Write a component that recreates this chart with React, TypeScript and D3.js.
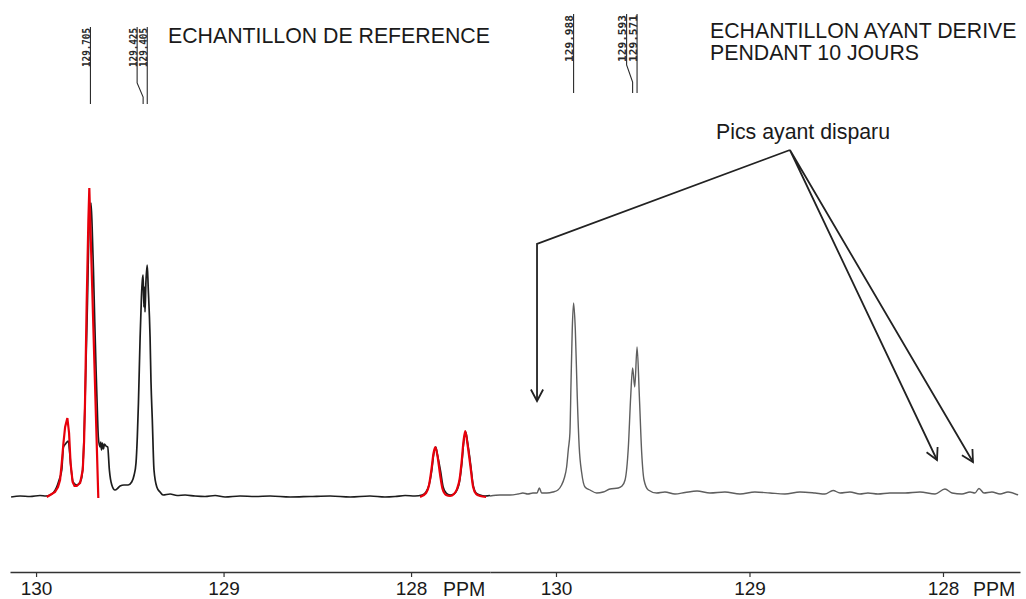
import {
  axisBottom,
  curveLinear,
  curveMonotoneX,
  line,
  scaleLinear,
  select,
} from "d3";
import { useEffect, useRef } from "react";

// ppm / height above baseline
const referenceTrace: [number, number][] = [
  [130.133, 0], [130.085, 1], [130.032, 0.5], [129.979, 1.5], [129.947, 1],
  [129.925, 2], [129.909, 4], [129.89, 10], [129.877, 17], [129.863, 27],
  [129.854, 50], [129.843, 53], [129.828, 56], [129.821, 45], [129.813, 28],
  [129.803, 15], [129.783, 12], [129.765, 15], [129.756, 20], [129.748, 40],
  [129.739, 94], [129.726, 194], [129.716, 277], [129.71, 285], [129.707, 294],
  [129.701, 270], [129.694, 227], [129.687, 175], [129.68, 127], [129.673, 85],
  [129.668, 60], [129.659, 50], [129.655, 55], [129.651, 47], [129.646, 54],
  [129.641, 48], [129.635, 53], [129.627, 51], [129.618, 50], [129.609, 27],
  [129.596, 12], [129.579, 7], [129.563, 9], [129.552, 11], [129.531, 12],
  [129.509, 12], [129.49, 15], [129.477, 22], [129.467, 34], [129.46, 60],
  [129.454, 94], [129.445, 160], [129.438, 200], [129.433, 217], [129.429, 222],
  [129.425, 190], [129.422, 210], [129.419, 185], [129.414, 215], [129.407, 232],
  [129.402, 210], [129.392, 160], [129.387, 115], [129.38, 77], [129.371, 27],
  [129.356, 10], [129.339, 5], [129.323, 2], [129.285, 3], [129.248, 1.5],
  [129.205, 2], [129.152, 1], [129.099, 0.5], [129.045, 1.5], [128.992, 0],
  [128.912, 1], [128.832, 0.5], [128.752, 1], [128.645, 0], [128.539, 0.5],
  [128.432, 1], [128.325, 0], [128.219, 1], [128.139, 0], [128.085, 0.5],
  [128.032, 1.5], [127.979, 1], [127.941, 2], [127.92, 5], [127.904, 12],
  [127.89, 26], [127.88, 42], [127.868, 50], [127.859, 42], [127.842, 25],
  [127.829, 10], [127.813, 4], [127.792, 2], [127.771, 3], [127.755, 7],
  [127.741, 16], [127.73, 32], [127.719, 55], [127.708, 65], [127.699, 55],
  [127.682, 32], [127.669, 12], [127.653, 4], [127.632, 2], [127.605, 1],
  [127.579, 1.5],
];

const fitLow: [number, number][] = [
  [129.943, 0], [129.925, 2], [129.899, 5], [129.883, 10], [129.872, 17],
  [129.863, 34], [129.854, 54], [129.845, 70], [129.833, 79], [129.824, 64],
  [129.816, 34], [129.805, 15], [129.795, 11], [129.783, 11], [129.765, 14],
  [129.751, 27], [129.744, 55], [129.739, 94], [129.73, 194], [129.721, 277],
  [129.716, 309], [129.668, -1],
];

const fitHigh: [number, number][] = [
  [127.952, 0], [127.92, 4], [127.904, 12], [127.891, 28], [127.88, 44],
  [127.871, 50], [127.86, 42], [127.845, 22], [127.832, 8], [127.813, 2],
  [127.792, 1], [127.771, 3], [127.755, 8], [127.741, 18], [127.731, 34],
  [127.72, 56], [127.711, 66], [127.7, 54], [127.683, 30], [127.669, 10],
  [127.653, 3], [127.632, 1], [127.6, 0],
];

const driftTrace: [number, number][] = [
  [130.341, -2], [130.289, -1], [130.238, -1], [130.196, 0], [130.171, 1],
  [130.145, 0], [130.119, 1], [130.098, 1], [130.086, 6], [130.074, 1],
  [130.047, 1], [130.016, 2], [129.99, 4], [129.971, 9], [129.957, 16],
  [129.945, 27], [129.936, 45], [129.928, 61], [129.922, 114], [129.916, 164],
  [129.909, 191], [129.9, 164], [129.89, 97], [129.88, 47], [129.867, 21],
  [129.85, 7], [129.824, 4], [129.79, 1], [129.756, 2], [129.721, 5],
  [129.678, 6], [129.659, 8], [129.643, 14], [129.626, 47], [129.614, 97],
  [129.604, 126], [129.593, 107], [129.581, 147], [129.569, 97], [129.557, 41],
  [129.545, 14], [129.523, 4], [129.48, 1], [129.437, 2], [129.385, 0],
  [129.333, 1.5], [129.271, 3], [129.204, 1], [129.127, 2], [129.049, 0],
  [128.972, 2], [128.894, 1], [128.817, 0], [128.739, 2], [128.661, 1],
  [128.61, 0], [128.568, 3.5], [128.532, 1], [128.481, 2], [128.429, 0],
  [128.388, 1], [128.336, 0], [128.274, 1], [128.196, 1], [128.119, 2],
  [128.041, 0], [127.99, 5], [127.953, 1], [127.902, 0], [127.86, 2],
  [127.835, 1], [127.814, 5.5], [127.788, 1], [127.747, 2], [127.705, 0],
  [127.664, 2], [127.612, -1],
];

const tickValues = [130, 129, 128];
const tickLabels = ["130", "129", "128"];

const refPeakLabels = ["129.705", "129.425", "129.405"];
const refPeakPpm = [129.71, 129.429, 129.407];
const driftPeakLabels = ["129.988", "129.593", "129.571"];
const driftPeakPpm = [129.909, 129.604, 129.581];

// arrows "Pics ayant disparu" in the right panel's ppm / height units
const arrowApex: [number, number] = [128.791, 344];
const arrowBend: [number, number] = [130.098, 250];
const missingPeaks: [number, number][] = [
  [130.098, 93],
  [128.031, 34],
  [127.845, 32],
];

const SANS = "'Liberation Sans', Arial, sans-serif";
const MONO = "'DejaVu Sans Mono', monospace";

function App() {
  const svgRef = useRef<SVGSVGElement>(null);

  useEffect(() => {
    const svg = select(svgRef.current);
    svg.selectAll("*").remove();

    const xLeft = scaleLinear().domain([130.139, 127.579]).range([10, 490]);
    const yLeft = scaleLinear().domain([0, 310]).range([497, 187]);
    const xRight = scaleLinear().domain([130.341, 127.602]).range([490, 1020]);
    const yRight = scaleLinear().domain([0, 310]).range([494, 184]);

    const drawAxis = (x: any, ppmOffset: number) => {
      const g = svg
        .append("g")
        .attr("transform", "translate(0,572)")
        .call(
          axisBottom(x)
            .tickValues(tickValues)
            .tickFormat((_: any, i: number) => tickLabels[i])
            .tickSize(5)
            .tickSizeOuter(0)
            .tickPadding(5) as any
        );
      g.select(".domain").attr("stroke", "#333").attr("stroke-width", 1.6);
      g.selectAll(".tick line").attr("stroke", "#333").attr("stroke-width", 1.2);
      g.selectAll(".tick text")
        .attr("font-size", 19)
        .attr("font-family", SANS)
        .attr("fill", "#1a1a1a");
      g.append("text")
        .attr("x", x(128) + ppmOffset)
        .attr("y", 23.5)
        .attr("text-anchor", "start")
        .attr("font-size", 19.5)
        .attr("font-family", SANS)
        .attr("fill", "#1a1a1a")
        .text("PPM");
    };
    drawAxis(xLeft, 32);
    drawAxis(xRight, 30);

    const trace = (x: any, y: any, curve: any) =>
      line<[number, number]>()
        .x((d) => x(d[0]))
        .y((d) => y(d[1]))
        .curve(curve);

    svg
      .append("path")
      .attr("d", trace(xRight, yRight, curveMonotoneX)(driftTrace))
      .attr("fill", "none")
      .attr("stroke", "#5e5e5e")
      .attr("stroke-width", 1.4);

    svg
      .append("path")
      .attr("d", trace(xLeft, yLeft, curveMonotoneX)(referenceTrace))
      .attr("fill", "none")
      .attr("stroke", "#1c1c1c")
      .attr("stroke-width", 1.7);

    svg
      .append("path")
      .attr("d", trace(xLeft, yLeft, curveLinear)(fitLow))
      .attr("fill", "none")
      .attr("stroke", "#e8000b")
      .attr("stroke-width", 2.2);

    svg
      .append("path")
      .attr("d", trace(xLeft, yLeft, curveMonotoneX)(fitHigh))
      .attr("fill", "none")
      .attr("stroke", "#e8000b")
      .attr("stroke-width", 2.2);

    // peak picking labels on top
    const drawPeakLabels = (
      x: any,
      labels: string[],
      ppms: number[],
      top: number,
      bend1: number,
      bend2: number,
      bottom: number,
      textLen: number,
      fontSize: number
    ) => {
      labels.forEach((label, i) => {
        const xb = x(ppms[i]);
        const crowded = i + 1 < ppms.length && x(ppms[i + 1]) - xb < 8;
        const xt = crowded ? xb - 6 : xb;
        svg
          .append("path")
          .attr("d", `M${xt},${top}V${bend1}L${xb},${bend2}V${bottom}`)
          .attr("fill", "none")
          .attr("stroke", "#2a2a2a")
          .attr("stroke-width", 1.1);
        svg
          .append("text")
          .attr("transform", `translate(${xt - 0.5},${top + 1}) rotate(-90)`)
          .attr("text-anchor", "end")
          .attr("font-family", MONO)
          .attr("font-weight", "bold")
          .attr("font-size", fontSize)
          .attr("textLength", textLen)
          .attr("lengthAdjust", "spacingAndGlyphs")
          .attr("fill", "#2a2a2a")
          .text(label);
      });
    };
    drawPeakLabels(xLeft, refPeakLabels, refPeakPpm, 27, 83, 97, 104, 39, 10.5);
    drawPeakLabels(xRight, driftPeakLabels, driftPeakPpm, 14, 65, 82, 93, 47, 10);

    // titles
    const title = (tx: number, ty: number, s: string) =>
      svg
        .append("text")
        .attr("x", tx)
        .attr("y", ty)
        .attr("font-family", SANS)
        .attr("font-size", 21.3)
        .attr("fill", "#1a1a1a")
        .text(s);
    title(168, 43, "ECHANTILLON DE REFERENCE");
    title(710, 38, "ECHANTILLON AYANT DERIVE");
    title(710, 60, "PENDANT 10 JOURS");
    title(716, 139, "Pics ayant disparu");

    // arrows to the vanished peaks
    const pt = (d: [number, number]) => [xRight(d[0]), yRight(d[1])];
    const [ax, ay] = pt(arrowApex);
    const [bx, by] = pt(arrowBend);
    const tips = missingPeaks.map(pt);
    const starts = [[bx, by], [ax, ay], [ax, ay]];

    svg
      .append("path")
      .attr(
        "d",
        `M${ax},${ay}L${bx},${by}L${tips[0][0]},${tips[0][1]}` +
          tips
            .slice(1)
            .map((t) => `M${ax},${ay}L${t[0]},${t[1]}`)
            .join("")
      )
      .attr("fill", "none")
      .attr("stroke", "#222")
      .attr("stroke-width", 1.8);

    tips.forEach((t, i) => {
      const [sx, sy] = starts[i];
      const ang = Math.atan2(t[1] - sy, t[0] - sx);
      const len = 13;
      const spread = (28 * Math.PI) / 180;
      const a1 = ang + Math.PI - spread;
      const a2 = ang + Math.PI + spread;
      svg
        .append("path")
        .attr(
          "d",
          `M${t[0] + len * Math.cos(a1)},${t[1] + len * Math.sin(a1)}` +
            `L${t[0]},${t[1]}` +
            `L${t[0] + len * Math.cos(a2)},${t[1] + len * Math.sin(a2)}`
        )
        .attr("fill", "none")
        .attr("stroke", "#222")
        .attr("stroke-width", 1.8);
    });
  }, []);

  return (
    <svg
      ref={svgRef}
      width={1026}
      height={599}
      style={{ position: "absolute", left: 0, top: 0, background: "#fff" }}
    ></svg>
  );
}

export default App;
